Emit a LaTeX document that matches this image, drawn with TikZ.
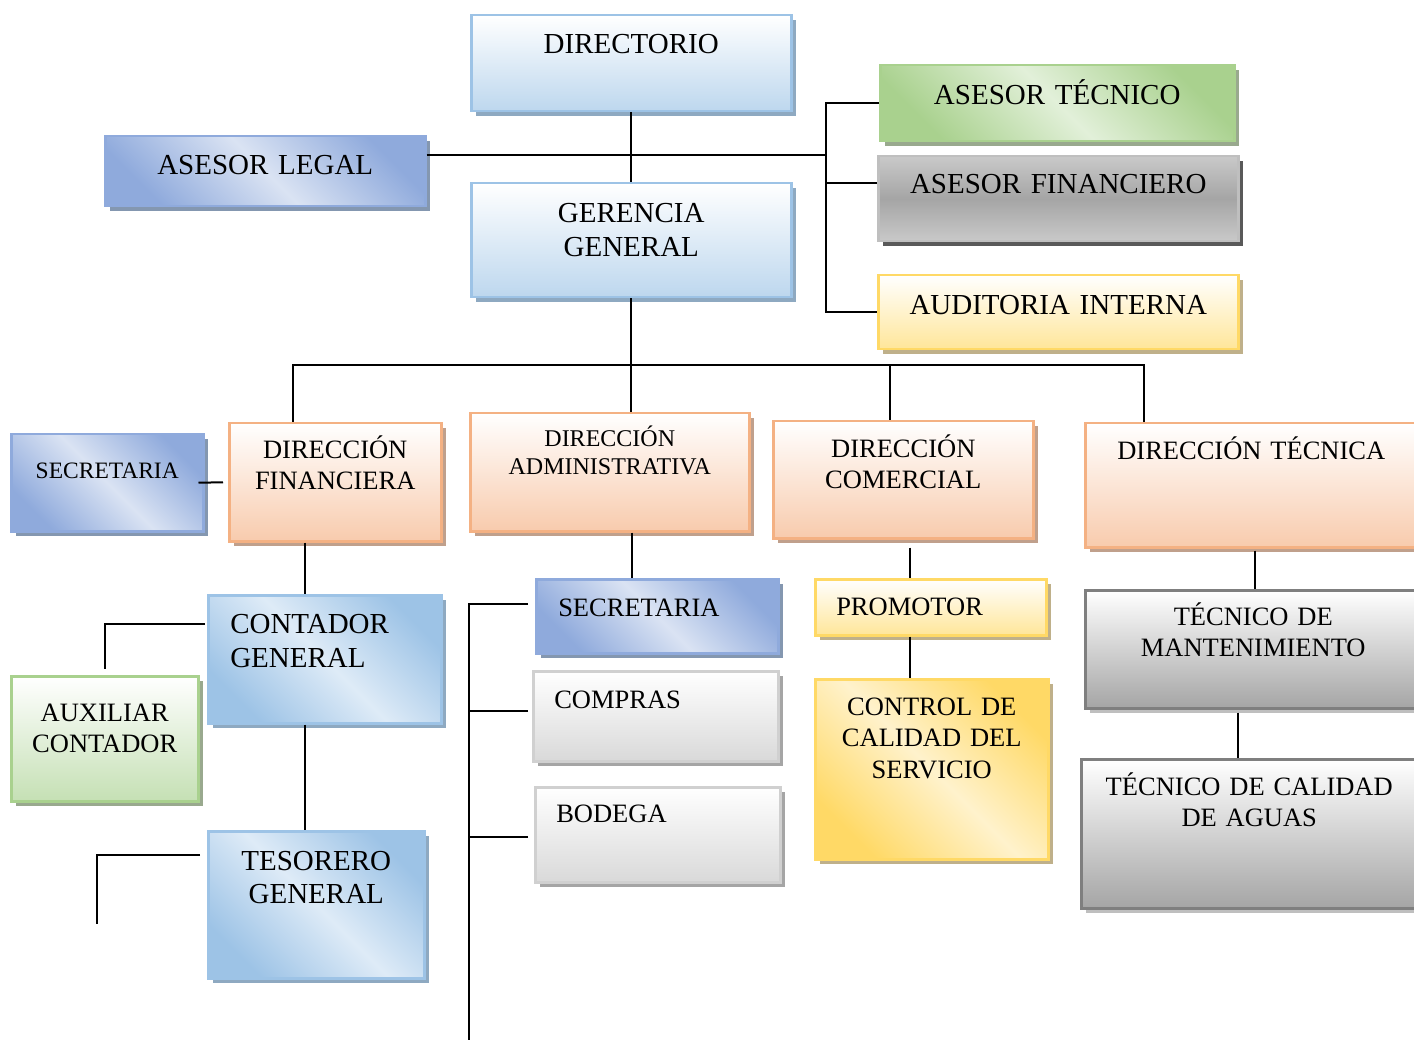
\documentclass[tikz,border=0pt]{standalone}
\usepackage{fontspec}
\setmainfont{Liberation Serif}
\usetikzlibrary{shadows}

\definecolor{azulcl}{HTML}{BDD7EE}
\definecolor{azulbd}{HTML}{9DC3E6}
\definecolor{azulsh}{HTML}{8EA9C1}
\definecolor{azulos}{HTML}{8FAADC}
\definecolor{azulpal}{HTML}{DAE3F3}
\definecolor{azulossh}{HTML}{8497B0}
\definecolor{celestecl}{HTML}{DEEBF7}
\definecolor{verdeos}{HTML}{A9D18E}
\definecolor{verdecl}{HTML}{E2F0D9}
\definecolor{verdemd}{HTML}{C5E0B4}
\definecolor{verdesh}{HTML}{99A98E}
\definecolor{naranjacl}{HTML}{F8CBAD}
\definecolor{naranjabd}{HTML}{F4B183}
\definecolor{naranjash}{HTML}{C0A08C}
\definecolor{amarillocl}{HTML}{FFE699}
\definecolor{amarillobd}{HTML}{FFD966}
\definecolor{amarillopal}{HTML}{FFF2CC}
\definecolor{amarillosh}{HTML}{BFB08A}
\definecolor{grismd}{HTML}{A5A5A5}
\definecolor{grisbd}{HTML}{BFBFBF}
\definecolor{grisos}{HTML}{595959}
\definecolor{grispal}{HTML}{C9C9C9}
\definecolor{platacl}{HTML}{D9D9D9}
\definecolor{platabd}{HTML}{D0D0D0}
\definecolor{grisbd2}{HTML}{7F7F7F}

\begin{document}
\begin{tikzpicture}[x=1pt,y=-1pt,
  caja/.style={anchor=north west,inner sep=0pt,align=center,line width=2.5pt},
  sombra/.style={drop shadow={opacity=1,fill=#1,shadow xshift=5pt,shadow yshift=-5pt}},
  grande/.style={font=\fontsize{29}{34}\selectfont},
  media/.style={font=\fontsize{26.5}{31.5}\selectfont},
  azul/.style={caja,draw=azulbd,top color=white,bottom color=azulcl,sombra=azulsh},
  azuloscuro/.style={caja,draw=azulos,left color=azulos,right color=azulos,middle color=azulpal,shading angle=135,sombra=azulossh},
  celeste/.style={caja,draw=azulbd,left color=azulbd,right color=azulbd,middle color=celestecl,shading angle=135,sombra=azulsh},
  verdeoscuro/.style={caja,draw=verdeos,left color=verdeos,right color=verdeos,middle color=verdecl,shading angle=135,sombra=verdesh},
  verde/.style={caja,draw=verdeos,top color=white,bottom color=verdemd,sombra=verdesh},
  naranja/.style={caja,draw=naranjabd,top color=white,bottom color=naranjacl,sombra=naranjash},
  amarillo/.style={caja,draw=amarillobd,top color=white,bottom color=amarillocl,sombra=amarillosh},
  oro/.style={caja,draw=amarillobd,left color=amarillobd,right color=amarillobd,middle color=amarillopal,shading angle=135,sombra=amarillosh},
  gris/.style={caja,draw=grisbd,top color=grispal,bottom color=grispal,middle color=grismd,sombra=grisos},
  plata/.style={caja,draw=platabd,top color=white,bottom color=platacl,sombra=grismd},
  grisclaro/.style={caja,draw=grisbd2,top color=white,bottom color=grismd,sombra=grisbd},
  linea/.style={line width=2pt}]
\useasboundingbox (0,0) rectangle (1414,1040);

% parte superior
\node[azul,grande,text width=320,text height=38,text depth=58] (dir) at (470,14) {DIRECTORIO};
\node[azuloscuro,grande,text width=320,text height=38,text depth=32] (legal) at (104,135) {ASESOR LEGAL};
\node[azul,grande,text width=320,text height=39,text depth=75] (ger) at (470,182) {GERENCIA\\GENERAL};
\node[verdeoscuro,grande,text width=354,text height=39,text depth=37] (atec) at (879,64) {ASESOR TÉCNICO};
\node[gris,grande,text width=360,text height=37,text depth=48] (afin) at (877,155) {ASESOR FINANCIERO};
\node[amarillo,grande,text width=360,text height=39,text depth=35] (aud) at (877,274) {AUDITORIA INTERNA};

% direcciones
\node[azuloscuro,font=\fontsize{23.5}{28}\selectfont,text width=192,text height=44,text depth=53] (sec1) at (10,433) {SECRETARIA};
\node[naranja,media,text width=212,text height=35,text depth=83] (dfin) at (228,422) {DIRECCIÓN\\FINANCIERA};
\node[naranja,font=\fontsize{24}{28}\selectfont,text width=279,text height=33,text depth=85] (dadm) at (469,412) {DIRECCIÓN\\ADMINISTRATIVA};
\node[naranja,media,text width=260,text height=36,text depth=81] (dcom) at (772,420) {DIRECCIÓN\\COMERCIAL};
\node[naranja,media,text width=332,text height=36,text depth=88] (dtec) at (1084,422) {DIRECCIÓN TÉCNICA};

% dependencias
\node[celeste,grande,align=left,inner xsep=22pt,text width=189,text height=38,text depth=90] (cont) at (207,594) {CONTADOR\\GENERAL};
\node[verde,media,text width=187,text height=45,text depth=80] (aux) at (10,675) {AUXILIAR\\CONTADOR};
\node[celeste,font=\fontsize{29}{33}\selectfont,text width=216,text height=39,text depth=108] (tes) at (207,830) {TESORERO\\GENERAL};
\node[azuloscuro,media,align=left,inner xsep=22pt,text width=198,text height=37,text depth=37] (sec2) at (535,578) {SECRETARIA};
\node[plata,media,align=left,inner xsep=21pt,text width=203,text height=37,text depth=53] (comp) at (532,670) {COMPRAS};
\node[plata,media,align=left,inner xsep=21pt,text width=203,text height=35,text depth=60] (bod) at (534,786) {BODEGA};
\node[amarillo,media,align=left,inner xsep=21pt,text width=189,text height=36,text depth=20] (prom) at (814,578) {PROMOTOR};
\node[oro,media,text width=233,text height=36,text depth=144] (ctrl) at (814,678) {CONTROL DE\\CALIDAD DEL\\SERVICIO};
\node[grisclaro,media,text width=336,text height=35,text depth=83] (tman) at (1084,589) {TÉCNICO DE\\MANTENIMIENTO};
\node[grisclaro,media,text width=336,text height=36,text depth=113] (tcal) at (1080,758) {TÉCNICO DE CALIDAD\\DE AGUAS};

% lineas
\coordinate (asr) at (826,155);
\coordinate (bus) at (631,365);
\draw[linea] (dir.south) -- (ger.north);
\draw[linea] (legal.east |- asr) -- (asr);
\draw[linea] (atec.west) -| (asr |- aud.west) -- (aud.west);
\draw[linea] ([yshift=16pt]afin.west) -- ([yshift=16pt]afin.west -| asr);

\coordinate (b1) at ([xshift=-42pt]dfin.north);
\coordinate (b3) at ([xshift=-13pt]dcom.north);
\coordinate (b4) at ([xshift=-107pt]dtec.north);
\draw[linea] (ger.south) -- (ger.south |- dadm.north);
\draw[linea] (b1) |- (b4 |- bus) -- (b4);
\draw[linea] (b3) -- (b3 |- bus);

\draw[linea] ([xshift=-6pt]sec1.east) -- ([xshift=-5pt]dfin.west);
\coordinate (c1) at ([xshift=-30pt]dfin.south);
\draw[linea] (c1) -- (c1 |- cont.north);
\draw[linea] ([xshift=-2pt,yshift=35pt]cont.west) -| ([yshift=6pt]aux.north);
\coordinate (c2) at ([xshift=-19.5pt]cont.south);
\draw[linea] (c2) -- (c2 |- tes.north);
\coordinate (tesfin) at (97,924);
\draw[linea] ([xshift=-7pt,yshift=49.5pt]tes.west) -| (tesfin);

\coordinate (c3) at ([xshift=22.5pt]dadm.south);
\draw[linea] (c3) -- (c3 |- sec2.north);
\coordinate (admfin) at (469,1040);
\draw[linea] ([xshift=-7pt,yshift=12pt]sec2.west) -| (admfin);
\coordinate (c4) at ([xshift=-4pt,yshift=5pt]comp.west);
\draw[linea] (c4) -- (c4 -| admfin);
\coordinate (c5) at ([xshift=-6pt,yshift=-2.5pt]bod.west);
\draw[linea] (c5) -- (c5 -| admfin);

\coordinate (c6) at ([xshift=7pt,yshift=-8pt]dcom.south);
\draw[linea] (c6) -- (c6 |- prom.north);
\coordinate (c7) at ([xshift=-20.5pt]prom.south);
\draw[linea] (c7) -- (c7 |- ctrl.north);
\coordinate (c8) at ([xshift=4pt,yshift=-2pt]dtec.south);
\draw[linea] (c8) -- (c8 |- tman.north);
\coordinate (c9) at ([xshift=-15pt,yshift=-3pt]tman.south);
\draw[linea] (c9) -- (c9 |- tcal.north);
\end{tikzpicture}
\end{document}
